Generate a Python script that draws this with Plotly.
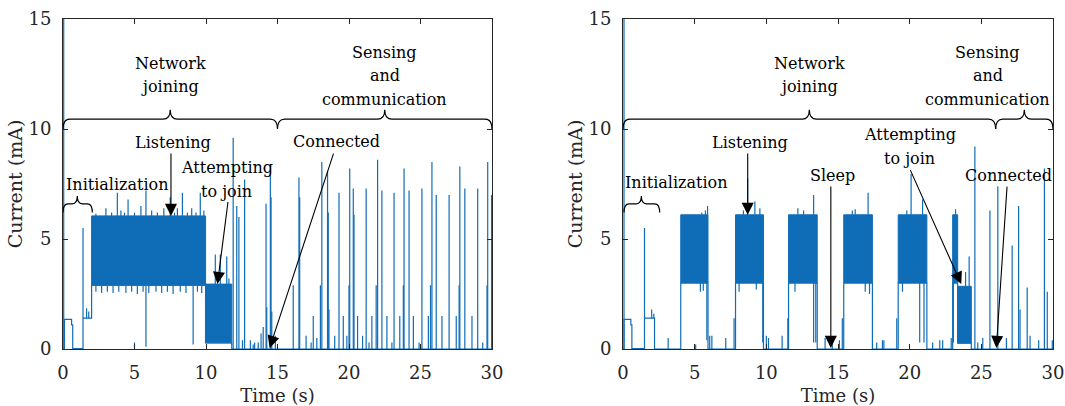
import plotly.graph_objects as go

BLUE = "#0F6DB8"
AX = "#262626"
FONT = "DejaVu Serif"

# ---------------- data ----------------
# Left panel: baseline step profile (value holds until next time)
L_base_t = [0.0, 0.10, 0.60, 0.68, 1.40, 2.00, 9.97, 11.80, 30.0]
L_base_i = [0.0, 1.35, 1.10, 0.02, 1.40, 2.90, 0.28, 0.00, 0.00]
# Left panel: dense oscillation blocks (start, end, low, high)
L_band_t0 = [2.00, 9.97]
L_band_t1 = [9.97, 11.80]
L_band_lo = [2.90, 0.28]
L_band_hi = [6.05, 2.95]
# Left panel: individual current spikes (time, from, to)
L_spike_t = [0.05, 1.40, 1.65, 1.80,
             2.3, 3.0, 3.4, 3.8, 4.05, 4.3, 4.55, 5.0, 5.45, 5.8, 6.2, 6.6, 7.05, 7.5, 7.8, 8.0, 8.35, 8.7, 9.0, 9.3, 9.6, 9.85,
             2.3, 2.7, 3.1, 3.5, 3.9, 4.4, 4.8, 5.2, 5.6, 6.0, 6.5, 6.9, 7.3, 7.7, 8.2, 8.6, 9.4, 9.7,
             5.8, 9.1, 5.0,
             10.65, 11.0, 11.45, 11.6,
             11.9, 12.15, 12.3, 12.55, 12.7, 13.1, 13.3, 13.4, 13.65, 13.85, 14.0, 14.2, 14.25, 14.5, 14.55, 14.6, 14.85,
             16.1, 16.5, 16.55, 17.0, 17.35, 17.5, 17.75, 18.0, 18.1, 18.5, 18.55, 18.6, 19.0, 19.3, 19.6, 19.85,
             20.0, 20.05, 20.3, 20.35, 20.6, 20.95, 21.2, 21.4, 21.6, 21.9, 22.0, 22.3, 22.65, 23.0, 23.15, 23.55,
             23.8, 23.85, 24.2, 24.5, 24.9, 25.1, 25.55, 25.7, 25.8, 26.1, 26.5, 27.0, 27.5, 27.7, 27.75, 28.1,
             28.6, 29.0, 29.35, 29.65, 29.7, 29.97]
L_spike_lo = [0.0, 1.40, 1.40, 1.40,
              6.05, 6.05, 6.05, 6.05, 6.05, 6.05, 6.05, 6.05, 6.05, 6.05, 6.05, 6.05, 6.05, 6.05, 6.05, 6.05, 6.05, 6.05, 6.05, 6.05, 6.05, 6.05,
              2.60, 2.55, 2.60, 2.55, 2.60, 2.55, 2.60, 2.50, 2.60, 2.55, 2.60, 2.55, 2.60, 2.50, 2.60, 2.55, 2.60, 2.55,
              0.10, 0.20, 0.0,
              2.95, 2.95, 2.95, 2.95,
              0.0, 0.0, 0.0, 0.0, 0.0, 0.0, 0.0, 0.0, 0.0, 0.0, 0.0, 0.0, 0.0, 0.0, 0.0, 0.0, 0.0,
              0.0, 0.0, 0.0, 0.0, 0.0, 0.0, 0.0, 0.0, 0.0, 0.0, 0.0, 0.0, 0.0, 0.0, 0.0, 0.0,
              0.0, 0.0, 0.0, 0.0, 0.0, 0.0, 0.0, 0.0, 0.0, 0.0, 0.0, 0.0, 0.0, 0.0, 0.0, 0.0,
              0.0, 0.0, 0.0, 0.0, 0.0, 0.0, 0.0, 0.0, 0.0, 0.0, 0.0, 0.0, 0.0, 0.0, 0.0, 0.0,
              0.0, 0.0, 0.0, 0.0, 0.0, 0.0]
L_spike_hi = [15.5, 5.5, 1.85, 1.70,
              6.15, 6.4, 6.2, 7.1, 6.3, 6.2, 6.8, 6.2, 6.5, 7.2, 6.3, 6.2, 6.4, 6.9, 6.2, 6.4, 7.1, 6.2, 6.4, 6.2, 7.1, 6.3,
              2.90, 2.90, 2.90, 2.90, 2.90, 2.90, 2.90, 2.90, 2.90, 2.90, 2.90, 2.90, 2.90, 2.90, 2.90, 2.90, 2.90, 2.90,
              2.90, 2.90, 0.30,
              4.3, 4.3, 4.2, 3.2,
              9.6, 6.5, 6.0, 0.4, 7.7, 0.4, 0.2, 0.3, 0.3, 0.7, 1.0, 6.6, 1.9, 8.4, 6.9, 1.7, 0.6,
              2.9, 7.8, 6.9, 0.6, 0.3, 1.5, 0.5, 2.9, 8.5, 8.1, 6.2, 1.8, 0.6, 7.1, 1.5, 0.6,
              2.9, 8.2, 7.3, 6.1, 1.5, 0.6, 7.3, 0.3, 1.5, 2.9, 8.6, 7.2, 1.5, 0.3, 7.1, 1.5,
              2.9, 8.2, 7.2, 1.5, 0.3, 7.3, 1.5, 2.9, 8.5, 7.0, 1.5, 7.0, 1.5, 2.9, 8.3, 7.3,
              1.5, 7.3, 0.3, 2.9, 8.5, 7.0]

# Right panel
R_base_t = [0.0, 0.07, 0.55, 0.62, 1.50, 2.20, 4.03, 5.93, 7.85, 9.80, 11.55, 13.55, 15.40, 17.40,
            19.20, 21.20, 23.00, 23.35, 24.30, 30.0]
R_base_i = [0.0, 1.35, 1.10, 0.02, 1.40, 0.00, 3.00, 0.00, 3.00, 0.00, 3.00, 0.00, 3.00, 0.00,
            3.00, 0.00, 3.00, 0.27, 0.00, 0.00]
R_band_t0 = [4.03, 7.85, 11.55, 15.40, 19.20, 23.00, 23.35]
R_band_t1 = [5.93, 9.80, 13.55, 17.40, 21.20, 23.35, 24.30]
R_band_lo = [3.00, 3.00, 3.00, 3.00, 3.00, 3.00, 0.27]
R_band_hi = [6.10, 6.10, 6.10, 6.10, 6.10, 6.10, 2.85]
R_spike_t = [0.07, 1.50, 2.00, 2.15, 3.15, 5.07,
             5.5, 5.75, 5.9, 5.4, 5.6, 5.85, 6.05, 6.2, 7.17, 7.75,
             8.4, 8.7, 9.2, 9.55, 8.1, 9.3, 9.75, 10.0, 10.15, 11.1, 11.5,
             12.2, 12.6, 13.3, 12.0, 13.3, 13.45,
             14.1, 14.6, 15.1, 15.3,
             16.0, 16.2, 17.1, 16.9, 17.2, 17.7, 18.1, 18.2, 19.1,
             19.8, 20.1, 20.9, 19.5, 20.7, 21.0, 21.6, 22.1, 22.3, 22.9,
             23.2, 23.05, 23.9, 24.15,
             24.55, 24.75, 25.1, 25.6, 26.15, 26.75, 27.15, 27.6, 27.7, 28.2, 28.4, 29.0, 29.4, 29.6, 29.95]
R_spike_lo = [0.0, 1.40, 1.40, 1.40, 0.0, 0.0,
              6.1, 6.1, 6.1, 2.6, 2.65, 0.4, 0.0, 0.0, 0.0, 0.0,
              6.1, 6.1, 6.1, 6.1, 2.6, 2.7, 0.3, 0.0, 0.0, 0.0, 0.0,
              6.1, 6.1, 6.1, 2.6, 0.3, 0.3,
              0.0, 0.0, 0.0, 0.0,
              6.1, 6.1, 6.1, 2.6, 2.5, 0.0, 0.0, 0.0, 0.0,
              6.1, 6.1, 6.1, 2.6, 0.3, 0.3, 0.0, 0.0, 0.0, 0.0,
              6.1, 0.3, 2.85, 2.85,
              0.0, 0.0, 0.0, 0.0, 0.0, 0.0, 0.0, 0.0, 0.0, 0.0, 0.0, 0.0, 0.0, 0.0, 0.0]
R_spike_hi = [15.5, 5.5, 1.8, 1.6, 0.5, 0.2,
              6.2, 6.3, 6.5, 3.0, 3.0, 3.0, 0.6, 0.6, 0.5, 1.4,
              6.3, 7.75, 6.7, 6.4, 3.0, 3.0, 3.0, 0.6, 0.5, 0.6, 1.4,
              6.4, 6.3, 7.0, 3.0, 3.0, 3.0,
              0.5, 0.4, 0.4, 1.4,
              6.3, 6.35, 7.1, 3.0, 3.0, 0.3, 0.4, 0.4, 1.4,
              6.3, 7.95, 6.8, 3.0, 3.0, 3.0, 0.3, 0.4, 0.4, 0.5,
              6.35, 3.0, 3.5, 4.2,
              9.2, 0.3, 0.5, 6.3, 7.4, 0.5, 4.7, 6.5, 1.8, 2.8, 0.6, 0.4, 8.2, 2.6, 0.4]

# Phase braces: (label lines, start, end, tip, label position, first-line height)
L_phases = [(["Network", "joining"], 0.0, 15.0, 7.5, 7.5, 13.0),
            (["Sensing", "and", "communication"], 15.0, 30.0, 22.5, 22.5, 13.46)]
R_phases = [(["Network", "joining"], 0.0, 26.0, 13.0, 13.0, 13.0),
            (["Sensing", "and", "communication"], 26.0, 30.0, 28.0, 25.45, 13.46)]
L_init = (0.0, 2.05, 1.0, 3.8, 7.5)
R_init = (0.07, 2.56, 1.28, 3.73, 7.55)

# Arrow callouts: (label lines, text_t, first-line_i, tail_t, tail_i, head_t, head_i)
L_calls = [(["Listening"], 7.7, 9.4, 7.55, 8.95, 7.55, 6.05),
           (["Attempting", "to join"], 11.45, 8.23, 11.55, 6.75, 10.8, 2.95),
           (["Connected"], 19.1, 9.42, 18.95, 8.95, 14.45, 0.05)]
R_calls = [(["Listening"], 8.85, 9.4, 8.7, 8.95, 8.7, 6.1),
           (["Sleep"], 14.6, 7.9, 14.5, 7.45, 14.5, 0.05),
           (["Attempting", "to join"], 20.0, 9.73, 20.0, 8.2, 23.6, 2.95),
           (["Connected"], 26.9, 7.9, 26.8, 7.45, 26.05, 0.05)]

LINE_STEP = 1.05   # spacing of stacked text lines, in mA
TXT = dict(family=FONT, size=16, color="black")

# ---------------- figure ----------------
fig = go.Figure()


def add_panel(xa, ya, base_t, base_i, b0, b1, blo, bhi, st, slo, shi):
    for t0, t1, lo, hi in zip(b0, b1, blo, bhi):
        fig.add_trace(go.Scatter(x=[t0, t1, t1, t0, t0], y=[lo, lo, hi, hi, lo], mode="lines",
                                 fill="toself", fillcolor=BLUE, line=dict(color=BLUE, width=1),
                                 xaxis=xa, yaxis=ya, hoverinfo="skip", showlegend=False))
    fig.add_trace(go.Scatter(x=base_t, y=base_i, mode="lines", line=dict(color=BLUE, width=1.2, shape="hv"),
                             xaxis=xa, yaxis=ya, showlegend=False))
    xs, ys = [], []
    for t, lo, hi in zip(st, slo, shi):
        xs += [t, t, None]
        ys += [lo, hi, None]
    fig.add_trace(go.Scatter(x=xs, y=ys, mode="lines", line=dict(color=BLUE, width=1.2),
                             xaxis=xa, yaxis=ya, showlegend=False, connectgaps=False))


add_panel("x", "y", L_base_t, L_base_i, L_band_t0, L_band_t1, L_band_lo, L_band_hi, L_spike_t, L_spike_lo, L_spike_hi)
add_panel("x2", "y2", R_base_t, R_base_i, R_band_t0, R_band_t1, R_band_lo, R_band_hi, R_spike_t, R_spike_lo, R_spike_hi)


def brace(x0, x1, xm, y0, ym, yt, dx):
    return (f"M {x0},{y0} Q {x0},{ym} {x0+dx},{ym} L {xm-dx},{ym} Q {xm},{ym} {xm},{yt} "
            f"Q {xm},{ym} {xm+dx},{ym} L {x1-dx},{ym} Q {x1},{ym} {x1},{y0}")


shapes = []
annotations = []


def add_lines(lines, x, y_first, xr, yr):
    for k, line in enumerate(lines):
        annotations.append(dict(x=x, y=y_first - k * LINE_STEP, xref=xr, yref=yr, text=line,
                                showarrow=False, xanchor="center", yanchor="middle", font=TXT))


for xr, yr, phases, init, calls in [("x", "y", L_phases, L_init, L_calls), ("x2", "y2", R_phases, R_init, R_calls)]:
    for lines, a, b, tip, tx, ty in phases:
        shapes.append(dict(type="path", xref=xr, yref=yr, path=brace(a, b, tip, 10.0, 10.45, 10.88, 0.5),
                           line=dict(color="black", width=1.2)))
        add_lines(lines, tx, ty, xr, yr)
    a, b, tip, tx, ty = init
    shapes.append(dict(type="path", xref=xr, yref=yr, path=brace(a, b, tip, 6.2, 6.6, 6.95, 0.35),
                       line=dict(color="black", width=1.2)))
    add_lines(["Initialization"], tx, ty, xr, yr)
    for lines, tx, ty, t0, i0, t1, i1 in calls:
        add_lines(lines, tx, ty, xr, yr)
        annotations.append(dict(x=t1, y=i1, ax=t0, ay=i0, xref=xr, yref=yr, axref=xr, ayref=yr, text="",
                                showarrow=True, arrowhead=2, arrowsize=2.2, arrowwidth=1.1, arrowcolor="black"))

axis_common = dict(range=[0, 30], tickvals=[0, 5, 10, 15, 20, 25, 30], ticks="inside", ticklen=5,
                   tickcolor=AX, showline=True, linecolor=AX, linewidth=1, mirror="allticks",
                   showgrid=False, zeroline=False, tickfont=dict(family=FONT, size=18, color=AX),
                   title=dict(text="Time (s)", font=dict(family=FONT, size=18, color=AX), standoff=8),
                   automargin=False, ticklabelstandoff=7)
yaxis_common = dict(range=[0, 15], tickvals=[0, 5, 10, 15], ticks="inside", ticklen=5,
                    tickcolor=AX, showline=True, linecolor=AX, linewidth=1, mirror="allticks",
                    showgrid=False, zeroline=False, tickfont=dict(family=FONT, size=18, color=AX),
                    title=dict(text="Current (mA)", font=dict(family=FONT, size=19, color=AX), standoff=0),
                    automargin=False, ticklabelstandoff=7)

fig.update_layout(
    width=1065, height=406,
    margin=dict(l=63, r=12, t=19, b=57),
    paper_bgcolor="white", plot_bgcolor="white",
    xaxis=dict(domain=[0, 429 / 990], anchor="y", **axis_common),
    xaxis2=dict(domain=[560 / 990, 1.0], anchor="y2", **axis_common),
    yaxis=dict(domain=[0, 1], anchor="x", **yaxis_common),
    yaxis2=dict(domain=[0, 1], anchor="x2", **yaxis_common),
    shapes=shapes, annotations=annotations,
)

# remove the default 8 px page margin so the figure fills the window exactly
fig.write_html("out.html", config={"displayModeBar": False},
               post_script="document.body.style.margin='0px';document.body.style.overflow='hidden';")
